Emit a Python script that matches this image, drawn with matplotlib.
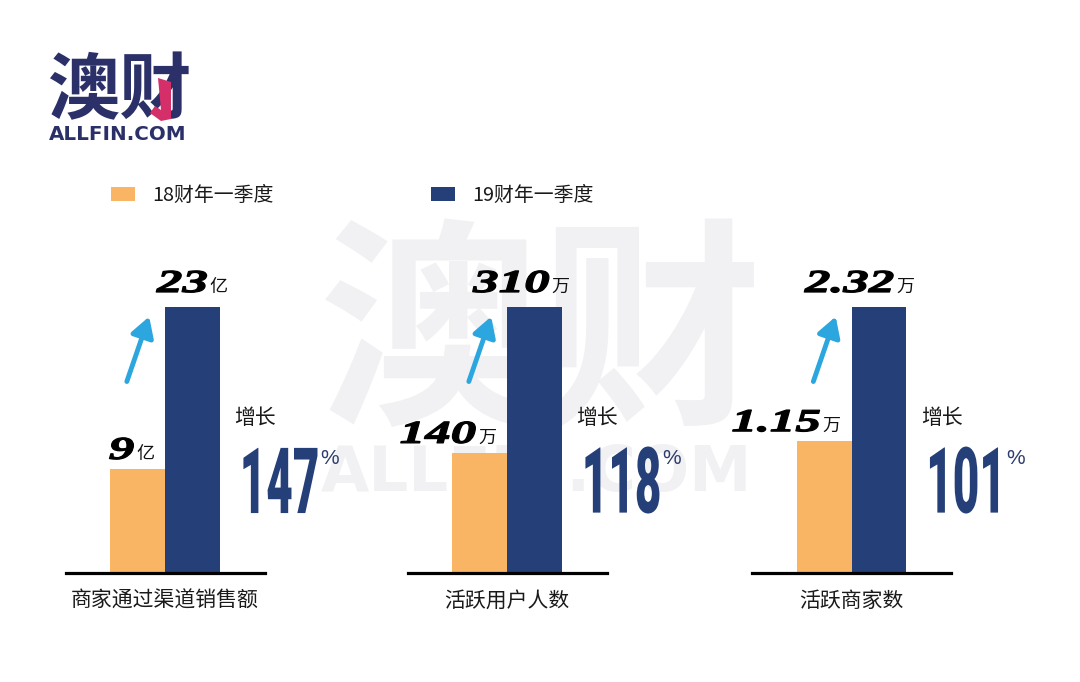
import matplotlib
matplotlib.use('Agg')
import matplotlib.pyplot as plt
from matplotlib import patheffects
from matplotlib.patches import Polygon
from matplotlib.transforms import Affine2D, blended_transform_factory

plt.rcParams['font.family'] = ['Noto Sans CJK SC', 'DejaVu Sans']

# ---------------- data ----------------
categories = ['商家通过渠道销售额', '活跃用户人数', '活跃商家数']
series_names = ['18财年一季度', '19财年一季度']
values_18 = [9, 140, 1.15]
values_19 = [23, 310, 2.32]
value_labels_18 = ['9', '140', '1.15']
value_labels_19 = ['23', '310', '2.32']
units = ['亿', '万', '万']
growth = ['147', '118', '101']
growth_title = '增长'

# ---------------- style ----------------
ORANGE = '#f9b564'
NAVY = '#253f78'
ARROW = '#2ba6de'
LOGO = '#2b3068'
PINK = '#d42f69'
WM = '#f1f1f4'
W, H = 1080, 682


class Stretch(patheffects.AbstractPathEffect):
    """Stretch glyphs about a pivot point of their ink box (optionally emboldened)."""
    def __init__(self, sx=1.0, sy=1.0, px=0.0, py=0.0, lw=0.0):
        super().__init__()
        self.sx, self.sy, self.px, self.py, self.lw = sx, sy, px, py, lw

    def draw_path(self, renderer, gc, tpath, affine, rgbFace=None):
        ext = tpath.get_extents(affine)
        x0 = ext.x0 + self.px * ext.width
        y0 = ext.y0 + self.py * ext.height
        aff = affine + Affine2D().translate(-x0, -y0).scale(self.sx, self.sy).translate(x0, y0)
        if self.lw > 0:
            gc0 = renderer.new_gc()
            gc0.copy_properties(gc)
            gc0.set_linewidth(self.lw)
            gc0.set_foreground(rgbFace)
            gc0.set_joinstyle('round')
            renderer.draw_path(gc0, tpath, aff, rgbFace)
            gc0.restore()
        else:
            renderer.draw_path(gc, tpath, aff, rgbFace)


fig = plt.figure(figsize=(W / 100, H / 100), dpi=100)
fig.patch.set_facecolor('white')

# watermark (behind everything)
fig.text(541 / W, 1 - 342 / H, '澳财', fontsize=160, fontweight=900,
         color=WM, ha='center', va='center', zorder=-10)
fig.text(536 / W, 1 - 474 / H, 'ALLFIN.COM', fontsize=45, fontweight='bold',
         family='DejaVu Sans', color=WM, ha='center', va='center', zorder=-10)

# logo
fig.text(119 / W, 1 - 92 / H, '澳财', fontsize=52, fontweight=900,
         color=LOGO, ha='center', va='center')
fig.text(118 / W, 1 - 134 / H, 'ALLFIN.COM', fontsize=14.3, fontweight='bold',
         family='DejaVu Sans', color=LOGO, ha='center', va='center')
accent = [(158, 78), (171, 82), (171, 119), (161, 121), (150, 113), (155, 106), (161, 110)]
fig.patches.append(Polygon([(x / W, 1 - y / H) for x, y in accent], closed=True,
                           facecolor=PINK, edgecolor='none',
                           transform=fig.transFigure, figure=fig, zorder=5))

centers = [165, 507, 851.5]
AX_W, AX_TOP, AX_BOT = 199, 240, 573
BLUE_PX = 266
growth_texts = []
handles = None
for i, c in enumerate(centers):
    ax = fig.add_axes([(c - AX_W / 2) / W, (H - AX_BOT) / H, AX_W / W, (AX_BOT - AX_TOP) / H])
    ax.patch.set_visible(False)
    b18 = ax.bar(-0.5, values_18[i], width=1, color=ORANGE, zorder=2)
    b19 = ax.bar(0.5, values_19[i], width=1, color=NAVY, zorder=2)
    if handles is None:
        handles = [b18, b19]
    ax.set_xlim(-1.825, 1.825)
    ax.set_ylim(0, values_19[i] * (AX_BOT - AX_TOP) / BLUE_PX)
    for s in ['top', 'left', 'right']:
        ax.spines[s].set_visible(False)
    ax.spines['bottom'].set_linewidth(2.3)
    ax.spines['bottom'].set_color('black')
    ax.set_yticks([])
    ax.set_xticks([0], [categories[i]])
    ax.tick_params(axis='x', length=0, pad=12, labelsize=15, labelcolor='#1a1a1a')

    # value labels
    for xr, val, lab, dx, dy in [(0.0, values_18[i], value_labels_18[i], -29, 10),
                                 (1.0, values_19[i], value_labels_19[i], -10, 15)]:
        ax.annotate(lab, xy=(xr, val), xytext=(dx - 2, dy), textcoords='offset pixels',
                    ha='right', va='baseline', fontsize=23, family='Liberation Serif',
                    fontweight='bold', fontstyle='italic', color='black',
                    path_effects=[Stretch(sx=1.6, px=1.0, lw=0.9)], annotation_clip=False)
        ax.annotate(units[i], xy=(xr, val), xytext=(dx, dy), textcoords='offset pixels',
                    ha='left', va='baseline', fontsize=13, color='#111111',
                    annotation_clip=False)

    # arrow
    ax.annotate('', xy=(-0.29, 0.77), xycoords=('data', 'axes fraction'),
                xytext=(-0.70, 0.575), textcoords=('data', 'axes fraction'),
                arrowprops=dict(arrowstyle='-|>,head_length=0.6,head_width=0.35',
                                color=ARROW, lw=3.5, shrinkA=0, shrinkB=0,
                                mutation_scale=20), annotation_clip=False)

    trans = blended_transform_factory(ax.transData, ax.transAxes)
    ax.text(1.27, 0.465, growth_title, transform=trans, fontsize=15, va='center',
            ha='left', color='#1a1a1a', clip_on=False)
    t = ax.text(1.37, 0.18, growth[i], transform=trans, fontsize=33, family='Roboto',
                fontweight=900, color=NAVY, ha='left', va='baseline', clip_on=False,
                path_effects=[Stretch(sy=2.0, py=0.0)])
    growth_texts.append(t)

fig.legend(handles=handles, labels=series_names, loc='upper left',
           bbox_to_anchor=(111 / W, 1 - 185 / H), ncol=2, frameon=False,
           fontsize=14.3, handlelength=1.2, handleheight=0.75, handletextpad=0.9,
           columnspacing=7.9, borderpad=0, borderaxespad=0, labelcolor='#1a1a1a')

fig.canvas.draw()
for t in growth_texts:
    bb = t.get_window_extent()
    fig.text((bb.x1 + 1) / W, 1 - 449 / H, '%', fontsize=15, family='Liberation Sans',
             color='#2d3e6e', ha='left', va='top')

fig.savefig('out.png', dpi=100)
